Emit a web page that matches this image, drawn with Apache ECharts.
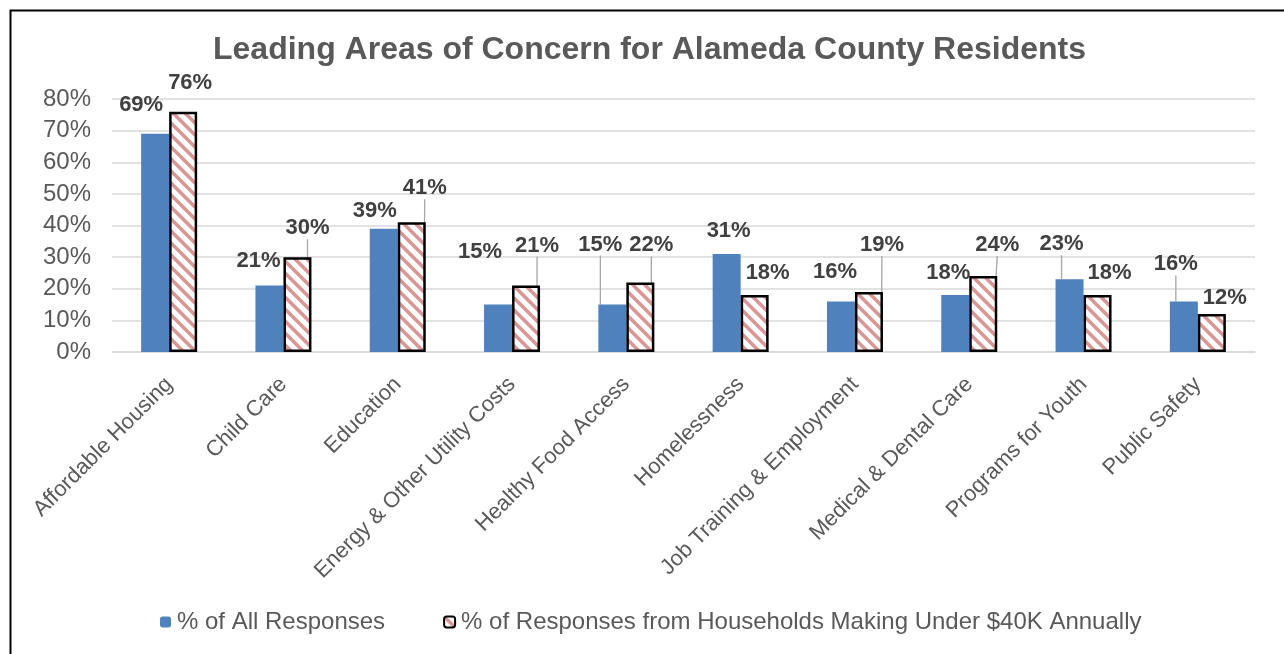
<!DOCTYPE html>
<html>
<head>
<meta charset="utf-8">
<script src="https://cdn.jsdelivr.net/npm/echarts@6/dist/echarts.min.js"></script>
<style>
  html, body { margin: 0; padding: 0; background: #fff; }
  #chart { width: 1284px; height: 654px; }
</style>
</head>
<body>
<div id="chart"></div>
<script>
// Survey areas of concern
const categories = [
  'Affordable Housing', 'Child Care', 'Education', 'Energy & Other Utility Costs',
  'Healthy Food Access', 'Homelessness', 'Job Training & Employment',
  'Medical & Dental Care', 'Programs for Youth', 'Public Safety'
];
const allResponses = [69, 21, 39, 15, 15, 31, 16, 18, 23, 16];
const under40k = [76, 30, 41, 21, 22, 18, 19, 24, 18, 12];
const yTicks = [0, 10, 20, 30, 40, 50, 60, 70, 80];

// Label nudges [dx, dy] and whether a leader line is drawn
const allOffsets = [[-14, -13], [-11, -9], [-9, -2], [-18, -37], [-12, -44], [2, -7], [-6, -13], [-7, -6], [-8, -19], [-8, -21]];
const allLines = [false, false, false, false, true, false, false, false, true, true];
const lowOffsets = [[7, -13], [10, -13], [13, -18], [11, -24], [11, -21], [13, -6], [13, -31], [14, -15], [12, -6], [13, 0]];
const lowLines = [false, true, true, true, true, false, true, true, false, false];

// Diagonal pink hatch tile
function hatchTile() {
  const s = 12;
  const c = document.createElement('canvas');
  c.width = s; c.height = s;
  const g = c.getContext('2d');
  g.fillStyle = '#ffffff';
  g.fillRect(0, 0, s, s);
  g.strokeStyle = '#d99694';
  g.lineWidth = 3.5;
  g.beginPath();
  g.moveTo(-3, -3); g.lineTo(s + 3, s + 3);
  g.moveTo(-3, s - 3); g.lineTo(3, s + 3);
  g.moveTo(s - 3, -3); g.lineTo(s + 3, 3);
  g.stroke();
  return c;
}
const hatch = { image: hatchTile(), repeat: 'repeat' };

const FONT = 'Liberation Sans, Arial, sans-serif';
const labelBase = {
  show: true,
  position: 'top',
  distance: 5,
  formatter: '{c}%',
  color: '#404040',
  fontFamily: FONT,
  fontWeight: 'bold',
  fontSize: 22
};
const lineStyle = { color: '#a6a6a6', width: 1.3 };

function items(values, lines) {
  return values.map((v, i) => ({ value: v, labelLine: { show: lines[i], lineStyle: lineStyle } }));
}

const chart = echarts.init(document.getElementById('chart'), null, { renderer: 'canvas' });
chart.setOption({
  backgroundColor: '#ffffff',
  animation: false,
  textStyle: { fontFamily: FONT },
  graphic: [{
    type: 'rect',
    left: 8, top: 8,
    shape: { width: 1300, height: 700 },
    style: { fill: 'none', stroke: '#000000', lineWidth: 2 },
    z: 100, silent: true
  }],
  title: {
    text: 'Leading Areas of Concern for Alameda County Residents',
    left: 208,
    top: 29,
    textStyle: { color: '#595959', fontSize: 32, fontWeight: 'bold', fontFamily: FONT }
  },
  legend: {
    bottom: 15,
    left: 155,
    itemWidth: 11,
    itemHeight: 11,
    itemGap: 58,
    textStyle: { color: '#595959', fontSize: 24, padding: [0, 0, 0, 1] },
    data: ['% of All Responses', '% of Responses from Households Making Under $40K Annually']
  },
  grid: { left: 112, right: 29, top: 99, bottom: 302 },
  xAxis: {
    type: 'category',
    data: categories,
    axisTick: { show: false },
    axisLine: { lineStyle: { color: '#d9d9d9', width: 1.5 } },
    axisLabel: { interval: 0, rotate: 45, color: '#595959', fontSize: 22, margin: 29 }
  },
  yAxis: {
    type: 'value',
    min: yTicks[0],
    max: yTicks[yTicks.length - 1],
    interval: 10,
    axisLine: { show: false },
    axisTick: { show: false },
    axisLabel: { formatter: '{value}%', color: '#595959', fontSize: 24, margin: 21 },
    splitLine: { lineStyle: { color: '#d9d9d9', width: 1.5 } }
  },
  series: [
    {
      name: '% of All Responses',
      type: 'bar',
      barWidth: 28,
      barGap: '0%',
      data: items(allResponses, allLines),
      itemStyle: { color: '#4f81bd' },
      label: labelBase,
      labelLayout: p => ({ dx: allOffsets[p.dataIndex][0], dy: allOffsets[p.dataIndex][1] })
    },
    {
      name: '% of Responses from Households Making Under $40K Annually',
      type: 'bar',
      barWidth: 28,
      barGap: '0%',
      data: items(under40k, lowLines),
      itemStyle: { color: hatch, borderColor: '#000000', borderWidth: 2.5 },
      label: labelBase,
      labelLayout: p => ({ dx: lowOffsets[p.dataIndex][0], dy: lowOffsets[p.dataIndex][1] })
    }
  ]
});
</script>
</body>
</html>
